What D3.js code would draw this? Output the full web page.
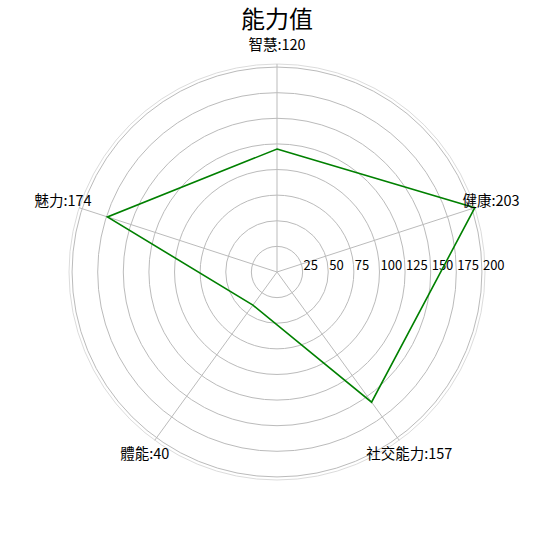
<!DOCTYPE html>
<html><head><meta charset="utf-8">
<script src="https://cdn.jsdelivr.net/npm/d3@7"></script>
<style>body{margin:0;background:#fff}svg text{font-family:"Noto Sans CJK TC","Noto Sans",sans-serif}</style>
</head><body><svg id="c" width="540" height="540"></svg>
<script>
const title = "能力值";
const categories = ["智慧","健康","社交能力","體能","魅力"];
const values = [120,203,157,40,174];
const ticks = [25,50,75,100,125,150,175,200];

const svg = d3.select("#c");
const cx = 277, cy = 272, R = 208;
const maxV = d3.max(values);
const r = d3.scaleLinear().domain([0, maxV]).range([0, R]);
const ang = d3.scaleLinear().domain([0, categories.length]).range([-Math.PI/2, 1.5*Math.PI]);
const g = svg.append("g").attr("transform", `translate(${cx},${cy})`);

g.append("circle").attr("r", R).attr("fill","none").attr("stroke","#dcdcdc").attr("stroke-width",1);
g.selectAll("circle.ring").data(ticks).join("circle").attr("class","ring")
  .attr("r", d=>r(d)).attr("fill","none").attr("stroke","#bbb").attr("stroke-width",1);

g.selectAll("line.spoke").data(categories).join("line").attr("class","spoke")
  .attr("x1",0).attr("y1",0)
  .attr("x2",(d,i)=>R*Math.cos(ang(i))).attr("y2",(d,i)=>R*Math.sin(ang(i)))
  .attr("stroke","#bbb").attr("stroke-width",1);

g.selectAll("text.tick").data(ticks).join("text").attr("class","tick")
  .attr("x", d=>r(d)+1).attr("y", -6).attr("dominant-baseline","middle")
  .attr("font-size",13).attr("fill","#000").text(d=>d);

const line = d3.lineRadial().angle((d,i)=>ang(i)+Math.PI/2).radius(d=>r(d)).curve(d3.curveLinearClosed);
g.append("path").datum(values).attr("d", line).attr("fill","none").attr("stroke","#008000").attr("stroke-width",1.6);

g.selectAll("text.lab").data(categories).join("text").attr("class","lab")
  .attr("x",(d,i)=>(R+17)*Math.cos(ang(i))).attr("y",(d,i)=>(R+18)*Math.sin(ang(i)))
  .attr("text-anchor","middle").attr("dominant-baseline","middle")
  .attr("font-size",14.5).attr("fill","#000").text((d,i)=>d+":"+values[i]);

svg.append("text").attr("x",cx).attr("y",21).attr("text-anchor","middle").attr("dominant-baseline","middle")
  .attr("font-size",24).attr("fill","#000").text(title);
</script></body></html>
